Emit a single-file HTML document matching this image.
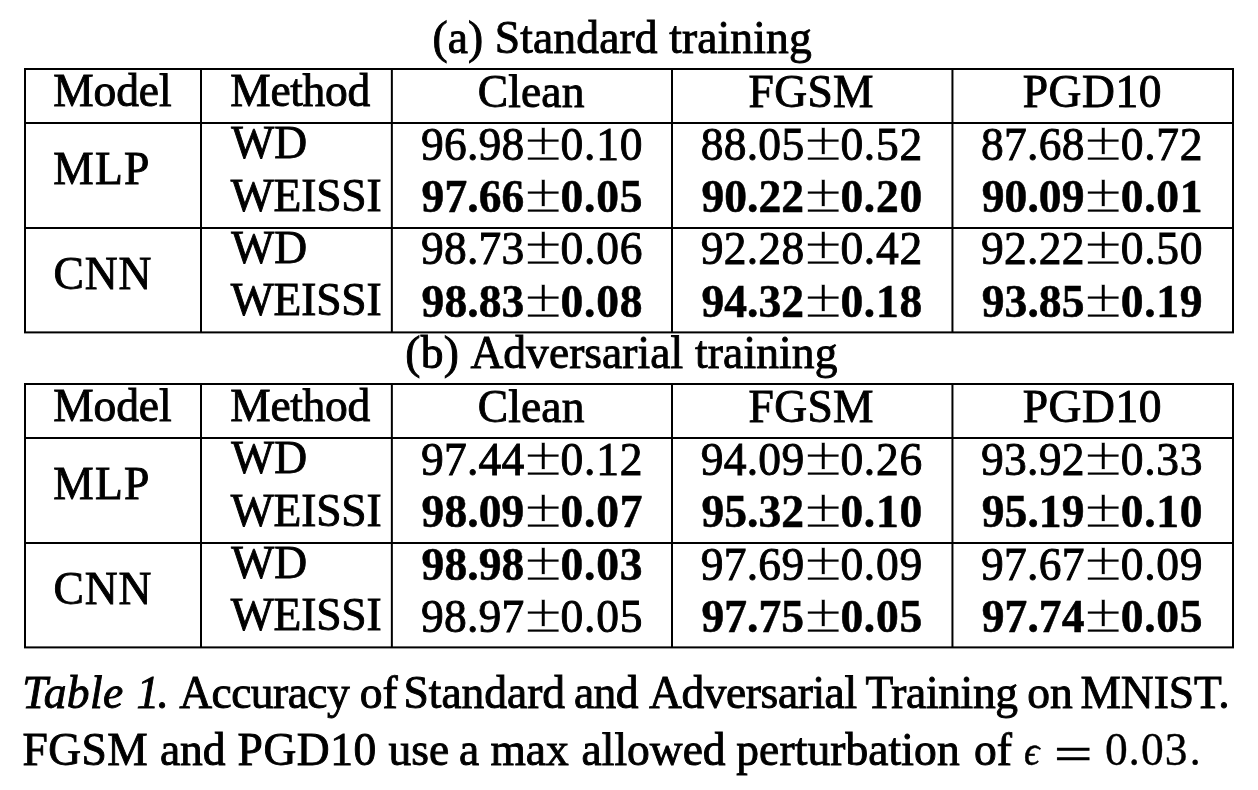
<!DOCTYPE html>
<html lang="en">
<head>
<meta charset="utf-8">
<title>Table 1</title>
<style>
html,body{margin:0;padding:0;background:#fff;}
body{width:1258px;height:790px;position:relative;overflow:hidden;
 font-family:"Liberation Serif","DejaVu Serif",serif;font-size:45.5px;color:#000;}
#page{position:absolute;left:0;top:0;width:1258px;height:790px;will-change:transform;}
svg{position:absolute;left:0;top:0;}
.title,.tr,.ln{position:absolute;left:0;width:1258px;height:45.5px;white-space:nowrap;font-size:0;line-height:0;}
.n{white-space:nowrap;}
.t{display:inline-block;position:relative;width:0;vertical-align:baseline;white-space:nowrap;font-size:45.5px;line-height:45.5px;transform-origin:0 38px;-webkit-text-stroke:0.9px #000;}
.b{font-weight:bold;-webkit-text-stroke:0.55px #000;}
.i{font-style:italic;}
.pm{-webkit-text-stroke:0.22px #fff;}
.eq{-webkit-text-stroke:0.6px #000;}
.m{-webkit-text-stroke:0.35px #000;}
.dot{-webkit-text-stroke:0.2px #000;}
.eps{font-style:italic;-webkit-text-stroke:0.5px #000;}
</style>
</head>
<body>
<div id="page">
<svg width="1258" height="790" viewBox="0 0 1258 790" fill="#000">
<rect x="24" y="68.00" width="1210" height="2"/>
<rect x="24" y="122.00" width="1210" height="2"/>
<rect x="24" y="227.00" width="1210" height="2"/>
<rect x="24" y="331.40" width="1210" height="2"/>
<rect x="24.00" y="69.00" width="2" height="263.40"/>
<rect x="200.00" y="69.00" width="2" height="263.40"/>
<rect x="390.85" y="69.00" width="2" height="263.40"/>
<rect x="671.00" y="69.00" width="2" height="263.40"/>
<rect x="951.45" y="69.00" width="2" height="263.40"/>
<rect x="1232.00" y="69.00" width="2" height="263.40"/>
<rect x="24" y="383.00" width="1210" height="2"/>
<rect x="24" y="437.00" width="1210" height="2"/>
<rect x="24" y="542.00" width="1210" height="2"/>
<rect x="24" y="646.40" width="1210" height="2"/>
<rect x="24.00" y="384.00" width="2" height="263.40"/>
<rect x="200.00" y="384.00" width="2" height="263.40"/>
<rect x="390.85" y="384.00" width="2" height="263.40"/>
<rect x="671.00" y="384.00" width="2" height="263.40"/>
<rect x="951.45" y="384.00" width="2" height="263.40"/>
<rect x="1232.00" y="384.00" width="2" height="263.40"/>
</svg>

<section class="tbl">
<div class="title" style="top:15.00px"><span class="t" style="left:432.38px;letter-spacing:0.14px;">(a) Standard training</span></div>
<div class="tr th" style="top:68.00px"><span class="t" style="left:53.29px;letter-spacing:-0.13px;">Model</span> <span class="t" style="left:230.29px;letter-spacing:-0.33px;">Method</span> <span class="t" style="left:477.68px;top:1px;letter-spacing:0.17px;">Clean</span> <span class="t" style="left:748.59px;top:1px;letter-spacing:0.34px;">FGSM</span> <span class="t" style="left:1022.69px;top:1px;letter-spacing:0.58px;">PGD10</span></div>
<div class="tr" style="top:146.00px"><span class="t" style="left:53.29px;letter-spacing:1.19px;">MLP</span> <span class="t" style="left:231.24px;top:-26px;">WD</span> <span class="n"><span class="t" style="left:420.88px;top:-24px;letter-spacing:0.27px;">96.98</span><span class="t pm" style="left:524.91px;top:-24px;transform:translateY(0.30px) scale(1.470,1.232);">±</span><span class="t" style="left:560.58px;top:-24px;letter-spacing:0.74px;">0.10</span></span> <span class="n"><span class="t" style="left:700.68px;top:-24px;letter-spacing:0.27px;">88.05</span><span class="t pm" style="left:804.71px;top:-24px;transform:translateY(0.30px) scale(1.470,1.232);">±</span><span class="t" style="left:840.38px;top:-24px;letter-spacing:0.74px;">0.52</span></span> <span class="n"><span class="t" style="left:981.08px;top:-24px;letter-spacing:0.27px;">87.68</span><span class="t pm" style="left:1085.11px;top:-24px;transform:translateY(0.30px) scale(1.470,1.232);">±</span><span class="t" style="left:1120.78px;top:-24px;letter-spacing:0.74px;">0.72</span></span></div>
<div class="tr" style="top:173.00px"><span class="t" style="left:230.80px;letter-spacing:-0.18px;">WEISSI</span> <span class="n"><span class="t b" style="left:421.59px;top:1px;letter-spacing:0.06px;">97.66</span><span class="t pm" style="left:524.91px;top:1px;transform:translateY(0.30px) scale(1.470,1.232);">±</span><span class="t b" style="left:560.58px;top:1px;letter-spacing:0.74px;">0.05</span></span> <span class="n"><span class="t b" style="left:701.39px;top:1px;letter-spacing:0.06px;">90.22</span><span class="t pm" style="left:804.71px;top:1px;transform:translateY(0.30px) scale(1.470,1.232);">±</span><span class="t b" style="left:840.38px;top:1px;letter-spacing:0.74px;">0.20</span></span> <span class="n"><span class="t b" style="left:981.79px;top:1px;letter-spacing:0.06px;">90.09</span><span class="t pm" style="left:1085.11px;top:1px;transform:translateY(0.30px) scale(1.470,1.232);">±</span><span class="t b" style="left:1120.78px;top:1px;letter-spacing:0.74px;">0.01</span></span></div>
<div class="tr" style="top:251.00px"><span class="t" style="left:53.58px;letter-spacing:0.86px;">CNN</span> <span class="t" style="left:231.24px;top:-26px;">WD</span> <span class="n"><span class="t" style="left:420.88px;top:-25px;letter-spacing:0.27px;">98.73</span><span class="t pm" style="left:524.91px;top:-25px;transform:translateY(0.30px) scale(1.470,1.232);">±</span><span class="t" style="left:560.58px;top:-25px;letter-spacing:0.74px;">0.06</span></span> <span class="n"><span class="t" style="left:700.68px;top:-25px;letter-spacing:0.27px;">92.28</span><span class="t pm" style="left:804.71px;top:-25px;transform:translateY(0.30px) scale(1.470,1.232);">±</span><span class="t" style="left:840.38px;top:-25px;letter-spacing:0.74px;">0.42</span></span> <span class="n"><span class="t" style="left:981.08px;top:-25px;letter-spacing:0.27px;">92.22</span><span class="t pm" style="left:1085.11px;top:-25px;transform:translateY(0.30px) scale(1.470,1.232);">±</span><span class="t" style="left:1120.78px;top:-25px;letter-spacing:0.74px;">0.50</span></span></div>
<div class="tr" style="top:277.00px"><span class="t" style="left:230.80px;letter-spacing:-0.18px;">WEISSI</span> <span class="n"><span class="t b" style="left:421.59px;top:2px;letter-spacing:0.06px;">98.83</span><span class="t pm" style="left:524.91px;top:2px;transform:translateY(0.30px) scale(1.470,1.232);">±</span><span class="t b" style="left:560.58px;top:2px;letter-spacing:0.74px;">0.08</span></span> <span class="n"><span class="t b" style="left:701.39px;top:2px;letter-spacing:0.06px;">94.32</span><span class="t pm" style="left:804.71px;top:2px;transform:translateY(0.30px) scale(1.470,1.232);">±</span><span class="t b" style="left:840.38px;top:2px;letter-spacing:0.74px;">0.18</span></span> <span class="n"><span class="t b" style="left:981.79px;top:2px;letter-spacing:0.06px;">93.85</span><span class="t pm" style="left:1085.11px;top:2px;transform:translateY(0.30px) scale(1.470,1.232);">±</span><span class="t b" style="left:1120.78px;top:2px;letter-spacing:0.74px;">0.19</span></span></div>
</section>
<section class="tbl">
<div class="title" style="top:330.00px"><span class="t" style="left:405.28px;letter-spacing:0.31px;">(b)</span> <span class="t" style="left:470.40px;letter-spacing:0.05px;">Adversarial</span> <span class="t" style="left:695.00px;letter-spacing:0.14px;">training</span></div>
<div class="tr th" style="top:383.00px"><span class="t" style="left:53.29px;letter-spacing:-0.13px;">Model</span> <span class="t" style="left:230.29px;letter-spacing:-0.33px;">Method</span> <span class="t" style="left:477.68px;top:1px;letter-spacing:0.17px;">Clean</span> <span class="t" style="left:748.59px;top:1px;letter-spacing:0.34px;">FGSM</span> <span class="t" style="left:1022.69px;top:1px;letter-spacing:0.58px;">PGD10</span></div>
<div class="tr" style="top:461.00px"><span class="t" style="left:53.29px;letter-spacing:1.19px;">MLP</span> <span class="t" style="left:231.24px;top:-26px;">WD</span> <span class="n"><span class="t" style="left:420.88px;top:-24px;letter-spacing:0.27px;">97.44</span><span class="t pm" style="left:524.91px;top:-24px;transform:translateY(0.30px) scale(1.470,1.232);">±</span><span class="t" style="left:560.58px;top:-24px;letter-spacing:0.74px;">0.12</span></span> <span class="n"><span class="t" style="left:700.68px;top:-24px;letter-spacing:0.27px;">94.09</span><span class="t pm" style="left:804.71px;top:-24px;transform:translateY(0.30px) scale(1.470,1.232);">±</span><span class="t" style="left:840.38px;top:-24px;letter-spacing:0.74px;">0.26</span></span> <span class="n"><span class="t" style="left:981.08px;top:-24px;letter-spacing:0.27px;">93.92</span><span class="t pm" style="left:1085.11px;top:-24px;transform:translateY(0.30px) scale(1.470,1.232);">±</span><span class="t" style="left:1120.78px;top:-24px;letter-spacing:0.74px;">0.33</span></span></div>
<div class="tr" style="top:488.00px"><span class="t" style="left:230.80px;letter-spacing:-0.18px;">WEISSI</span> <span class="n"><span class="t b" style="left:421.59px;top:1px;letter-spacing:0.06px;">98.09</span><span class="t pm" style="left:524.91px;top:1px;transform:translateY(0.30px) scale(1.470,1.232);">±</span><span class="t b" style="left:560.58px;top:1px;letter-spacing:0.74px;">0.07</span></span> <span class="n"><span class="t b" style="left:701.39px;top:1px;letter-spacing:0.06px;">95.32</span><span class="t pm" style="left:804.71px;top:1px;transform:translateY(0.30px) scale(1.470,1.232);">±</span><span class="t b" style="left:840.38px;top:1px;letter-spacing:0.74px;">0.10</span></span> <span class="n"><span class="t b" style="left:981.79px;top:1px;letter-spacing:0.06px;">95.19</span><span class="t pm" style="left:1085.11px;top:1px;transform:translateY(0.30px) scale(1.470,1.232);">±</span><span class="t b" style="left:1120.78px;top:1px;letter-spacing:0.74px;">0.10</span></span></div>
<div class="tr" style="top:566.00px"><span class="t" style="left:53.58px;letter-spacing:0.86px;">CNN</span> <span class="t" style="left:231.24px;top:-26px;">WD</span> <span class="n"><span class="t b" style="left:421.59px;top:-24px;letter-spacing:0.06px;">98.98</span><span class="t pm" style="left:524.91px;top:-24px;transform:translateY(0.30px) scale(1.470,1.232);">±</span><span class="t b" style="left:560.58px;top:-24px;letter-spacing:0.74px;">0.03</span></span> <span class="n"><span class="t" style="left:700.68px;top:-24px;letter-spacing:0.27px;">97.69</span><span class="t pm" style="left:804.71px;top:-24px;transform:translateY(0.30px) scale(1.470,1.232);">±</span><span class="t" style="left:840.38px;top:-24px;letter-spacing:0.74px;">0.09</span></span> <span class="n"><span class="t" style="left:981.08px;top:-24px;letter-spacing:0.27px;">97.67</span><span class="t pm" style="left:1085.11px;top:-24px;transform:translateY(0.30px) scale(1.470,1.232);">±</span><span class="t" style="left:1120.78px;top:-24px;letter-spacing:0.74px;">0.09</span></span></div>
<div class="tr" style="top:592.00px"><span class="t" style="left:230.80px;letter-spacing:-0.18px;">WEISSI</span> <span class="n"><span class="t" style="left:420.88px;top:2px;letter-spacing:0.27px;">98.97</span><span class="t pm" style="left:524.91px;top:2px;transform:translateY(0.30px) scale(1.470,1.232);">±</span><span class="t" style="left:560.58px;top:2px;letter-spacing:0.74px;">0.05</span></span> <span class="n"><span class="t b" style="left:701.39px;top:2px;letter-spacing:0.06px;">97.75</span><span class="t pm" style="left:804.71px;top:2px;transform:translateY(0.30px) scale(1.470,1.232);">±</span><span class="t b" style="left:840.38px;top:2px;letter-spacing:0.74px;">0.05</span></span> <span class="n"><span class="t b" style="left:981.79px;top:2px;letter-spacing:0.06px;">97.74</span><span class="t pm" style="left:1085.11px;top:2px;transform:translateY(0.30px) scale(1.470,1.232);">±</span><span class="t b" style="left:1120.78px;top:2px;letter-spacing:0.74px;">0.05</span></span></div>
</section>
<div class="caption">
<div class="ln" style="top:670.00px"><span class="t i" style="left:22.16px;letter-spacing:0.42px;">Table</span> <span class="t i" style="left:136.58px;letter-spacing:-1.95px;">1.</span> <span class="t" style="left:179.30px;letter-spacing:-0.56px;">Accuracy</span> <span class="t" style="left:359.84px;">of</span> <span class="t" style="left:403.56px;letter-spacing:-0.03px;">Standard</span> <span class="t" style="left:573.98px;letter-spacing:-0.59px;">and</span> <span class="t" style="left:649.00px;letter-spacing:-0.42px;">Adversarial</span> <span class="t" style="left:865.49px;letter-spacing:-0.36px;">Training</span> <span class="t" style="left:1027.14px;">on</span> <span class="t" style="left:1080.49px;letter-spacing:-0.08px;">MNIST.</span></div>
<div class="ln" style="top:727.00px"><span class="t" style="left:22.39px;letter-spacing:0.48px;">FGSM</span> <span class="t" style="left:159.98px;letter-spacing:-0.14px;">and</span> <span class="t" style="left:237.59px;letter-spacing:0.53px;">PGD10</span> <span class="t" style="left:388.60px;letter-spacing:-0.03px;">use</span> <span class="t" style="left:458.99px;">a</span> <span class="t" style="left:490.59px;letter-spacing:-0.11px;">max</span> <span class="t" style="left:581.58px;">allowed</span> <span class="t" style="left:736.29px;letter-spacing:0.09px;">perturbation</span> <span class="t" style="left:973.99px;">of</span> <span class="t eps" style="left:1024.20px;transform:translateY(-0.06px) scale(0.844,0.923);">ϵ</span> <span class="t eq" style="left:1054.11px;transform:translateY(3.81px) scale(1.496,1.018);">=</span> <span class="t m" style="left:1104.88px;letter-spacing:0.97px;">0.03</span><span class="t dot" style="left:1189.41px;">.</span></div></div>
</div>
</body>
</html>
